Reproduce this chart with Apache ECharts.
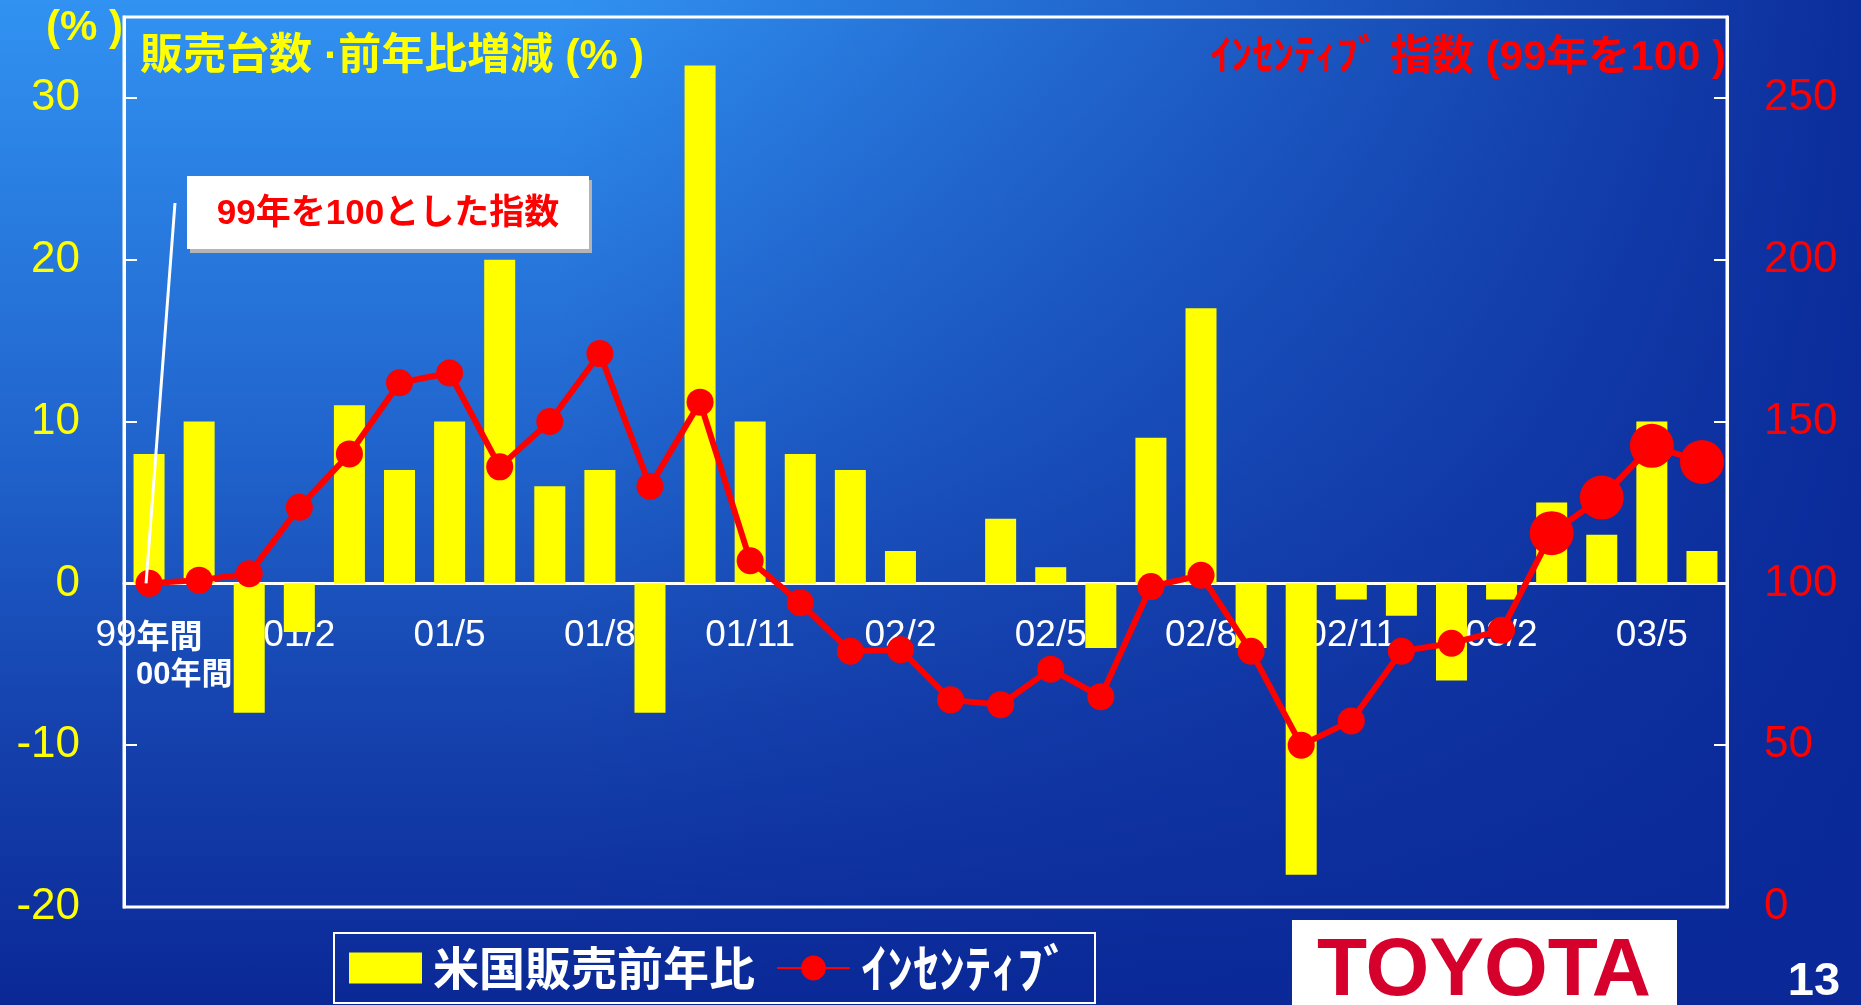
<!DOCTYPE html>
<html>
<head>
<meta charset="utf-8">
<script src="https://cdn.jsdelivr.net/npm/echarts@6/dist/echarts.min.js"></script>
<style>
  html, body { margin: 0; padding: 0; }
  #chart {
    width: 1861px;
    height: 1005px;
    background:
      linear-gradient(to right, rgba(10, 40, 152, 0) 0%, rgba(10, 40, 152, 0) 30%, rgba(10, 40, 152, 0.95) 100%),
      linear-gradient(to bottom, #3192f2 0%, #2063cc 45%, #1644b0 70%, #0a2896 100%);
  }
</style>
</head>
<body>
<div id="chart"></div>
<script>
// カテゴリ（99年間, 00年間, 01/1 ～ 03/6）
const categories = [
  "99年間", "00年間",
  "01/1", "01/2", "01/3", "01/4", "01/5", "01/6", "01/7", "01/8", "01/9", "01/10", "01/11", "01/12",
  "02/1", "02/2", "02/3", "02/4", "02/5", "02/6", "02/7", "02/8", "02/9", "02/10", "02/11", "02/12",
  "03/1", "03/2", "03/3", "03/4", "03/5", "03/6"
];
// 軸の下に並べる目盛ラベル（00年間は2段目に別途表示）
const shownLabels = ["99年間", "01/2", "01/5", "01/8", "01/11", "02/2", "02/5", "02/8", "02/11", "03/2", "03/5"];
const secondRowLabel = "00年間";

// 米国販売前年比 (%)
const salesYoY = [8, 10, -8, -3, 11, 7, 10, 20, 6, 7, -8, 32, 10, 8, 7, 2, 0, 4, 1, -4, 9, 17, -4, -18, -1, -2, -6, -1, 5, 3, 10, 2];
// インセンティブ指数 (99年=100)
const incentiveIdx = [100, 101, 103, 123.5, 140, 162, 165, 136, 150, 171, 130, 156, 107, 94, 79, 79.5, 64, 62.5, 73.5, 65, 99, 102.5, 79, 50, 57.5, 79, 81.5, 85.5, 115.5, 126.5, 142.5, 137.5];
// 大きいマーカーの月
const bigPoints = ["03/3", "03/4", "03/5", "03/6"];

const leftTicks = [-20, -10, 0, 10, 20, 30];
const rightTicks = [0, 50, 100, 150, 200, 250];

const LATIN = '"Liberation Sans", Arial, "Noto Sans CJK JP", sans-serif';
const JP = '"Noto Sans CJK JP", "Liberation Sans", sans-serif';

const GRID_BOTTOM = 98;
const chart = echarts.init(document.getElementById("chart"));

chart.setOption({
  animation: false,
  backgroundColor: "transparent",
  grid: {
    left: 124, right: 134, top: 17, bottom: GRID_BOTTOM,
    show: true, borderColor: "#fff", borderWidth: 3,
    outerBoundsMode: "none"
  },
  legend: {
    left: 334, top: 933,
    padding: [9, 26, 9, 15],
    borderColor: "#fff", borderWidth: 2,
    itemWidth: 73, itemHeight: 31, itemGap: 21,
    selectedMode: false,
    textStyle: {
      color: "#fff", fontSize: 46, fontWeight: "bold", fontFamily: JP, padding: [0, 0, 0, 6], lineHeight: 50,
      rich: { k: { color: "#fff", fontSize: 52, fontWeight: "bold", fontFamily: JP, lineHeight: 50 } }
    },
    formatter: name => name === "ｲﾝｾﾝﾃｨﾌﾞ" ? "{k|" + name + "}" : name,
    data: [{ name: "米国販売前年比", icon: "rect" }, { name: "ｲﾝｾﾝﾃｨﾌﾞ" }]
  },
  xAxis: {
    type: "category",
    data: categories,
    position: "bottom",
    axisLine: { onZero: false, lineStyle: { color: "#fff", width: 3 } },
    axisTick: { inside: true, length: 11, interval: 0, lineStyle: { color: "#fff", width: 2 } },
    axisLabel: {
      interval: (i, v) => shownLabels.includes(v),
      showMinLabel: true,
      hideOverlap: false,
      margin: 34,
      color: "#fff",
      fontSize: 37,
      fontFamily: LATIN,
      lineHeight: 36,
      formatter: (v, i) => i === 0 ? "{n|99}{b|年間}" : v,
      rich: {
        n: { color: "#fff", fontSize: 37, fontFamily: LATIN, lineHeight: 36 },
        b: { color: "#fff", fontSize: 33, fontWeight: "bold", fontFamily: JP, lineHeight: 36 }
      }
    },
    splitLine: { show: false }
  },
  yAxis: [
    {
      type: "value", min: leftTicks[0], max: 35, interval: 10, position: "left",
      axisLine: { show: true, lineStyle: { color: "#fff", width: 3 } },
      axisTick: { show: true, inside: true, length: 13, lineStyle: { color: "#fff", width: 2 } },
      axisLabel: { color: "#ffff00", fontSize: 44, fontFamily: LATIN, margin: 44, padding: [10, 0, 0, 0], showMaxLabel: false },
      splitLine: { show: false }
    },
    {
      type: "value", min: rightTicks[0], max: 275, interval: 50, position: "right",
      axisLine: { show: true, lineStyle: { color: "#fff", width: 3 } },
      axisTick: { show: true, inside: true, length: 13, lineStyle: { color: "#fff", width: 2 } },
      axisLabel: { color: "#ff0000", fontSize: 44, fontFamily: LATIN, margin: 37, padding: [10, 0, 0, 0], showMaxLabel: false },
      splitLine: { show: false }
    }
  ],
  series: [
    {
      name: "米国販売前年比",
      type: "bar",
      yAxisIndex: 0,
      barWidth: 31,
      itemStyle: { color: "#ffff00" },
      data: salesYoY
    },
    {
      name: "ｲﾝｾﾝﾃｨﾌﾞ",
      type: "line",
      yAxisIndex: 1,
      symbol: "circle",
      showSymbol: true,
      showAllSymbol: true,
      z: 5,
      itemStyle: { color: "#ff0000" },
      lineStyle: { color: "#ff0000", width: 6 },
      data: incentiveIdx.map((v, i) => ({
        value: v,
        symbolSize: bigPoints.includes(categories[i]) ? 44 : 27
      }))
    }
  ],
  graphic: [
    { type: "text", x: 46, y: 7, z: 50, style: { text: "(% )", fill: "#ffff00", font: "bold 42px " + LATIN } },
    { type: "text", x: 140, y: 36, z: 50, style: { text: "販売台数 ·前年比増減 (% )", fill: "#ffff00", font: "bold 43px " + LATIN } },
    { type: "text", x: 1726, y: 37, z: 50, style: { text: "ｲﾝｾﾝﾃｨﾌﾞ 指数 (99年を100 )", fill: "#ff0000", font: "bold 42px " + LATIN, textAlign: "right" } },
    {
      type: "rect", z: 50,
      shape: { x: 187, y: 176, width: 402, height: 73 },
      style: { fill: "#fff", shadowColor: "#b4b4b4", shadowOffsetX: 3, shadowOffsetY: 4, shadowBlur: 0 }
    },
    { type: "text", x: 388, y: 214, z: 51, style: { text: "99年を100とした指数", fill: "#ff0000", font: "bold 35px " + LATIN, textAlign: "center", textVerticalAlign: "middle" } },
    { type: "rect", z: 50, shape: { x: 1292, y: 920, width: 385, height: 85 }, style: { fill: "#fff" } },
    { type: "text", x: 1484, y: 972, z: 51, style: { text: "TOYOTA", fill: "#d5002b", font: "bold 82px " + LATIN, textAlign: "center", textVerticalAlign: "middle" } },
    { type: "text", x: 1814, y: 982, z: 50, style: { text: "13", fill: "#fff", font: "bold 47px " + LATIN, textAlign: "center", textVerticalAlign: "middle" } }
  ]
});

// カテゴリ軸を0%の位置へ移動
const zeroY = chart.convertToPixel({ yAxisIndex: 0 }, 0);
const gridBottomY = chart.getHeight() - GRID_BOTTOM;
// 注記の引出し線：99年間の点まで
const p = chart.convertToPixel({ seriesIndex: 1 }, [0, incentiveIdx[0]]);
// 00年間ラベル（2段目）
const x00 = chart.convertToPixel({ xAxisIndex: 0 }, secondRowLabel);

chart.setOption({
  xAxis: { offset: zeroY - gridBottomY },
  graphic: {
    elements: [
      { id: "pointer", type: "line", z: 60, shape: { x1: 175, y1: 203, x2: p[0] - 3, y2: p[1] }, style: { stroke: "#fff", lineWidth: 3 } },
      {
        id: "row2", type: "text", z: 20, x: x00 - 15, y: zeroY + 92,
        style: { text: secondRowLabel, fill: "#fff", fontSize: 31, fontWeight: "bold", fontFamily: LATIN, textAlign: "center", textVerticalAlign: "middle" }
      }
    ]
  }
});
</script>
</body>
</html>
